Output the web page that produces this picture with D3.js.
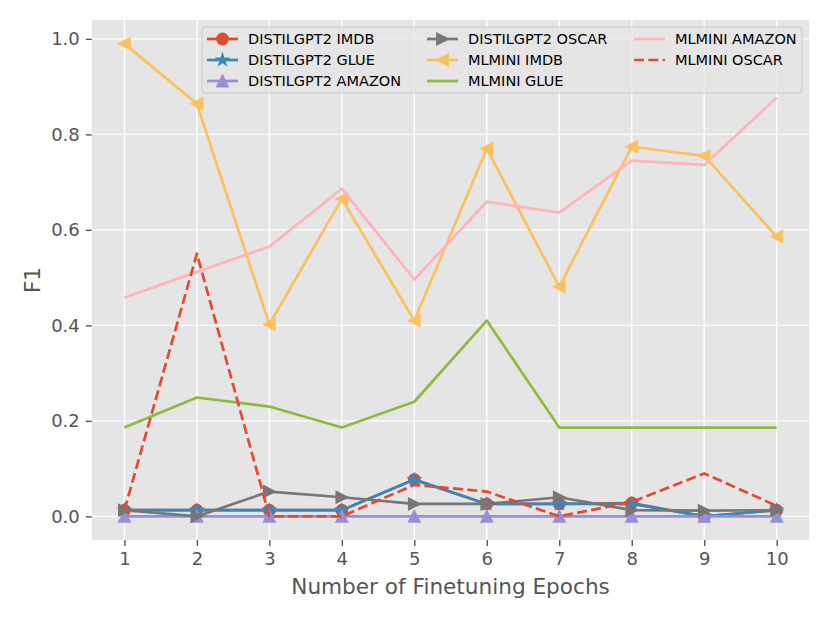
<!DOCTYPE html>
<html>
<head>
<meta charset="utf-8">
<script src="https://cdn.jsdelivr.net/npm/d3@7"></script>
<style>
  html, body { margin: 0; padding: 0; background: #fff; }
  text { font-family: "DejaVu Sans", sans-serif; }
</style>
</head>
<body>
<script>
// data
const epochs = [1, 2, 3, 4, 5, 6, 7, 8, 9, 10];
const yTicks = [0.0, 0.2, 0.4, 0.6, 0.8, 1.0];

const distilImdb   = [0.013, 0.013, 0.013, 0.013, 0.077, 0.026, 0.026, 0.028, 0.0, 0.013];
const distilGlue   = [0.013, 0.013, 0.013, 0.013, 0.077, 0.026, 0.026, 0.026, 0.0, 0.013];
const distilAmazon = [0, 0, 0, 0, 0, 0, 0, 0, 0, 0];
const distilOscar  = [0.013, 0.0, 0.052, 0.040, 0.026, 0.026, 0.040, 0.013, 0.012, 0.013];
const mlminiImdb   = [0.990, 0.864, 0.402, 0.665, 0.410, 0.770, 0.481, 0.774, 0.755, 0.586];
const mlminiGlue   = [0.186, 0.249, 0.230, 0.186, 0.240, 0.410, 0.186, 0.186, 0.186, 0.186];
const mlminiAmazon = [0.458, 0.512, 0.565, 0.686, 0.496, 0.659, 0.636, 0.745, 0.736, 0.877];
const mlminiOscar  = [0.013, 0.550, 0.0, 0.0, 0.066, 0.052, 0.0, 0.030, 0.090, 0.022];

const series = [
  { name: 'DISTILGPT2 IMDB',   values: distilImdb,   color: '#E24A33', marker: 'circle' },
  { name: 'DISTILGPT2 GLUE',   values: distilGlue,   color: '#348ABD', marker: 'star' },
  { name: 'DISTILGPT2 AMAZON', values: distilAmazon, color: '#988ED5', marker: 'up' },
  { name: 'DISTILGPT2 OSCAR',  values: distilOscar,  color: '#777777', marker: 'right' },
  { name: 'MLMINI IMDB',       values: mlminiImdb,   color: '#FBC15E', marker: 'left' },
  { name: 'MLMINI GLUE',       values: mlminiGlue,   color: '#8EBA42', marker: null },
  { name: 'MLMINI AMAZON',     values: mlminiAmazon, color: '#FFB5B8', marker: null },
  { name: 'MLMINI OSCAR',      values: mlminiOscar,  color: '#E24A33', marker: null, dashed: true }
];

// layout
const width = 830;
const height = 622;
const plot = { left: 91.8, right: 809.3, top: 20, bottom: 540 };
const lineWidth = 2.7;
const ms = 11; // marker size

const svg = d3.select('body')
  .append('svg')
  .attr('width', width)
  .attr('height', height);

const x = d3.scaleLinear()
  .domain([0.55, 10.45])
  .range([plot.left, plot.right]);

const y = d3.scaleLinear()
  .domain([-0.0495, 1.0395])
  .range([plot.bottom, plot.top]);

// background
svg.append('rect')
  .attr('x', plot.left)
  .attr('y', plot.top)
  .attr('width', plot.right - plot.left)
  .attr('height', plot.bottom - plot.top)
  .attr('fill', '#E5E5E5');

// grid
const grid = svg.append('g');
grid.selectAll('.gx')
  .data(epochs)
  .enter()
  .append('line')
  .attr('x1', d => x(d)).attr('x2', d => x(d))
  .attr('y1', plot.top).attr('y2', plot.bottom)
  .attr('stroke', '#fff').attr('stroke-width', 1.4);
grid.selectAll('.gy')
  .data(yTicks)
  .enter()
  .append('line')
  .attr('x1', plot.left).attr('x2', plot.right)
  .attr('y1', d => y(d)).attr('y2', d => y(d))
  .attr('stroke', '#fff').attr('stroke-width', 1.4);

// axes
const xAxis = d3.axisBottom(x)
  .tickValues(epochs)
  .tickFormat(d3.format('d'))
  .tickSize(6)
  .tickPadding(6);

const gx = svg.append('g')
  .attr('transform', 'translate(0,' + plot.bottom + ')')
  .call(xAxis);

const yAxis = d3.axisLeft(y)
  .tickValues(yTicks)
  .tickFormat(d3.format('.1f'))
  .tickSize(6)
  .tickPadding(6);

const gy = svg.append('g')
  .attr('transform', 'translate(' + plot.left + ',0)')
  .call(yAxis);

[gx, gy].forEach(g => {
  g.select('.domain').remove();
  g.selectAll('.tick line').attr('stroke', '#555555').attr('stroke-width', 1.4);
  g.selectAll('.tick text')
    .attr('fill', '#555555')
    .style('font-size', '18px')
    .style('font-family', '"DejaVu Sans", sans-serif');
});

svg.append('text')
  .attr('x', (plot.left + plot.right) / 2)
  .attr('y', 594)
  .attr('text-anchor', 'middle')
  .attr('fill', '#555555')
  .style('font-size', '21.6px')
  .text('Number of Finetuning Epochs');

svg.append('text')
  .attr('transform', 'translate(40,' + ((plot.top + plot.bottom) / 2) + ') rotate(-90)')
  .attr('text-anchor', 'middle')
  .attr('fill', '#555555')
  .style('font-size', '21.6px')
  .text('F1');

// marker paths (matplotlib-like shapes)
function markerPath(type, s) {
  const r = s / 2;
  if (type === 'circle') {
    return d3.symbol().type(d3.symbolCircle).size(Math.PI * r * r)();
  }
  if (type === 'star') {
    const inner = r * 0.381966;
    const pts = [];
    for (let i = 0; i < 10; i++) {
      const a = -Math.PI / 2 + i * Math.PI / 5;
      const rr = i % 2 === 0 ? r : inner;
      pts.push([rr * Math.cos(a), rr * Math.sin(a)]);
    }
    return 'M' + pts.map(p => p.join(',')).join('L') + 'Z';
  }
  const tri = {
    up:    [[0, -r], [-r, r], [r, r]],
    right: [[r, 0], [-r, -r], [-r, r]],
    left:  [[-r, 0], [r, -r], [r, r]]
  }[type];
  return 'M' + tri.map(p => p.join(',')).join('L') + 'Z';
}

const line = d3.line()
  .x((d, i) => x(epochs[i]))
  .y(d => y(d));

// series
series.forEach(s => {
  const g = svg.append('g');
  g.append('path')
    .datum(s.values)
    .attr('d', line)
    .attr('fill', 'none')
    .attr('stroke', s.color)
    .attr('stroke-width', lineWidth)
    .attr('stroke-linejoin', 'round')
    .attr('stroke-dasharray', s.dashed ? '10,4.3' : null);
  if (s.marker) {
    g.selectAll('path.m')
      .data(s.values)
      .enter()
      .append('path')
      .attr('class', 'm')
      .attr('transform', (d, i) => 'translate(' + x(epochs[i]) + ',' + y(d) + ')')
      .attr('d', markerPath(s.marker, ms))
      .attr('fill', s.color)
      .attr('stroke', s.color)
      .attr('stroke-width', 1.8)
      .attr('stroke-linejoin', 'miter');
  }
});

// legend
const legend = svg.append('g');
legend.append('rect')
  .attr('x', 202).attr('y', 27)
  .attr('width', 600).attr('height', 66)
  .attr('rx', 3)
  .attr('fill', '#E5E5E5').attr('fill-opacity', 0.8)
  .attr('stroke', '#CCCCCC').attr('stroke-width', 1);

const colX = [207, 427, 634];
const rowY = [39, 60, 81];
const handleLen = 31;

series.forEach((s, i) => {
  const col = Math.floor(i / 3);
  const row = i % 3;
  const hx = colX[col];
  const hy = rowY[row];
  const item = legend.append('g');
  item.append('line')
    .attr('x1', hx).attr('x2', hx + handleLen)
    .attr('y1', hy).attr('y2', hy)
    .attr('stroke', s.color)
    .attr('stroke-width', lineWidth)
    .attr('stroke-dasharray', s.dashed ? '10,4.3' : null);
  if (s.marker) {
    item.append('path')
      .attr('transform', 'translate(' + (hx + handleLen / 2) + ',' + hy + ')')
      .attr('d', markerPath(s.marker, ms))
      .attr('fill', s.color)
      .attr('stroke', s.color)
      .attr('stroke-width', 1.8);
  }
  item.append('text')
    .attr('x', hx + 41)
    .attr('y', hy)
    .attr('dy', '0.36em')
    .attr('fill', '#000')
    .style('font-size', '14.5px')
    .text(s.name);
});
</script>
</body>
</html>
